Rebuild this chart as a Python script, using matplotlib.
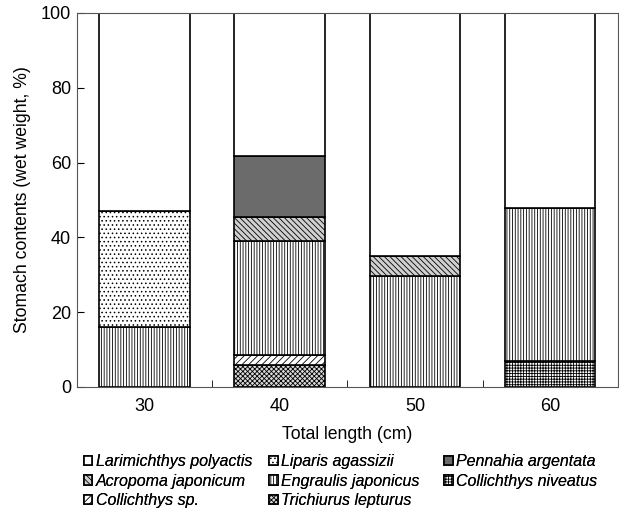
import matplotlib
matplotlib.use("Agg")
import matplotlib.pyplot as plt
import numpy as np

plt.rcParams['font.family'] = ['Liberation Sans', 'DejaVu Sans']
plt.rcParams['hatch.linewidth'] = 0.6

lengths = ["30", "40", "50", "60"]

# stacking order from bottom to top
species = ["Trichiurus lepturus", "Collichthys sp.", "Collichthys niveatus",
           "Engraulis japonicus", "Acropoma japonicum", "Liparis agassizii",
           "Pennahia argentata", "Larimichthys polyactis"]
values = {
    "Trichiurus lepturus":    [0, 5.8, 0, 0],
    "Collichthys sp.":        [0, 2.8, 0, 0],
    "Collichthys niveatus":   [0, 0, 0, 7.0],
    "Engraulis japonicus":    [15.9, 30.5, 29.7, 40.8],
    "Acropoma japonicum":     [0, 6.4, 5.4, 0],
    "Liparis agassizii":      [31.2, 0, 0, 0],
    "Pennahia argentata":     [0, 16.2, 0, 0],
    "Larimichthys polyactis": [52.9, 38.3, 64.9, 52.2],
}
styles = {
    "Trichiurus lepturus":    dict(facecolor="#d9d9d9", hatch="xxxxxxx"),
    "Collichthys sp.":        dict(facecolor="white", hatch="/////"),
    "Collichthys niveatus":   dict(facecolor="white", hatch="++++++"),
    "Engraulis japonicus":    dict(facecolor="white", hatch="||||||"),
    "Acropoma japonicum":     dict(facecolor="#d0d0d0", hatch="\\\\\\\\\\\\"),
    "Liparis agassizii":      dict(facecolor="white", hatch="...."),
    "Pennahia argentata":     dict(facecolor="#6b6b6b", hatch=None),
    "Larimichthys polyactis": dict(facecolor="white", hatch=None),
}
legend_cols = [
    ["Larimichthys polyactis", "Acropoma japonicum", "Collichthys sp."],
    ["Liparis agassizii", "Engraulis japonicus", "Trichiurus lepturus"],
    ["Pennahia argentata", "Collichthys niveatus"],
]
legend_x = [0.135, 0.435, 0.718]

fig, ax = plt.subplots(figsize=(6.19, 5.18), dpi=100)
fig.subplots_adjust(left=0.124, right=0.998, top=0.975, bottom=0.253)

x = np.arange(len(lengths))
bottom = np.zeros(len(lengths))
handles = {}
for sp in species:
    v = np.array(values[sp])
    bars = ax.bar(x, v, width=0.67, bottom=bottom, edgecolor="black",
                  linewidth=1.2, label=sp, **styles[sp])
    handles[sp] = bars
    bottom += v

ax.set_xlim(-0.5, 3.5)
ax.set_ylim(0, 100)
ax.set_xticks(x)
ax.set_xticklabels(lengths)
ax.set_xticks([0.5, 1.5, 2.5], minor=True)
ax.tick_params(axis="x", which="major", length=0, labelsize=13, pad=8)
ax.tick_params(axis="x", which="minor", direction="in", length=5)
ax.tick_params(axis="y", direction="in", length=5, labelsize=13, pad=4)
ax.set_yticks([0, 20, 40, 60, 80, 100])
ax.set_ylabel("Stomach contents (wet weight, %)", fontsize=12.7, labelpad=7)
ax.set_xlabel("Total length (cm)", fontsize=12.7, labelpad=8)
for s in ax.spines.values():
    s.set_linewidth(0.8)
    s.set_color("#555555")

for names, lx in zip(legend_cols, legend_x):
    leg = fig.legend([handles[s] for s in names], names, loc="upper left",
                     bbox_to_anchor=(lx, 0.123), frameon=False,
                     prop={"style": "italic", "size": 11.5}, handlelength=0.55,
                     handleheight=0.55, handletextpad=0.2, labelspacing=0.28,
                     borderpad=0, borderaxespad=0)
    fig.add_artist(leg)

plt.savefig("out.png", dpi=100)
